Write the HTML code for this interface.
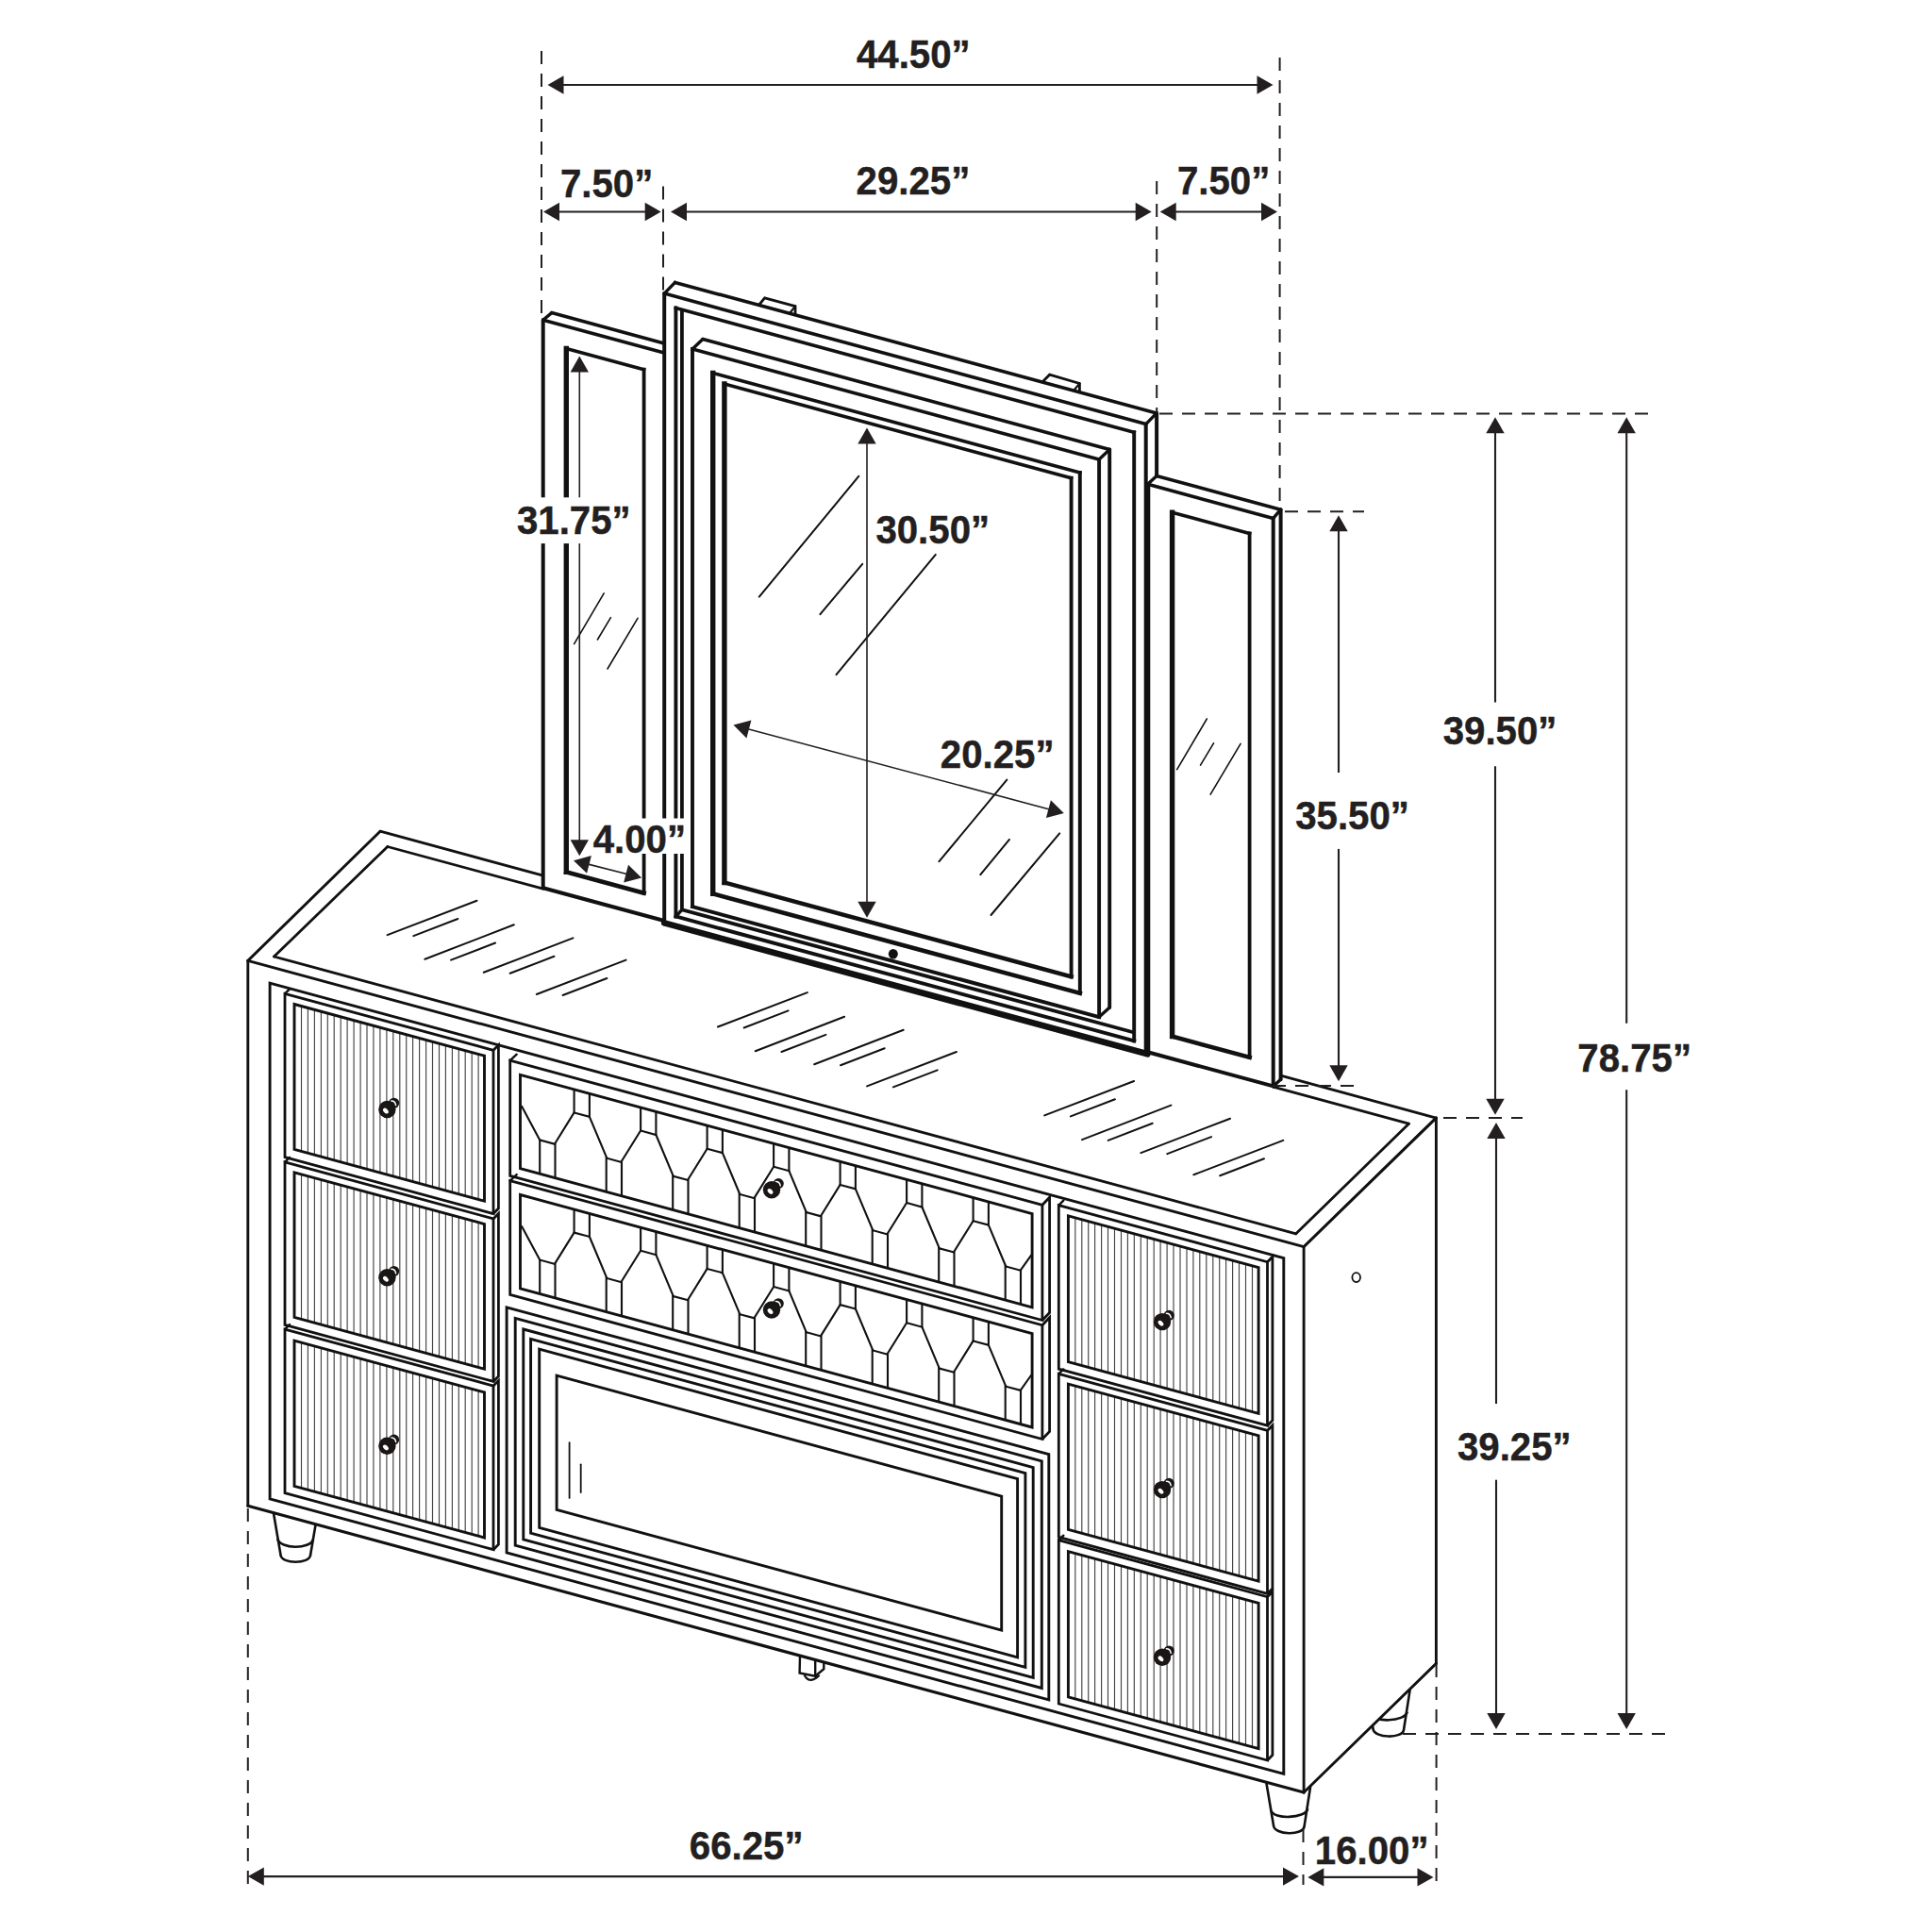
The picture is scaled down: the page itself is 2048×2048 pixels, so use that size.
<!DOCTYPE html>
<html><head><meta charset="utf-8"><style>
html,body{margin:0;padding:0;background:#fff;}
svg{display:block;}
</style></head><body>
<svg width="2048" height="2048" viewBox="0 0 2048 2048" stroke-linecap="butt">
<rect width="2048" height="2048" fill="#fff"/>
<line x1="262.8" y1="1018.4" x2="403.0" y2="881.2" stroke="#111" stroke-width="2.9" stroke-linecap="round" />
<line x1="403.0" y1="881.2" x2="575.7" y2="928.1" stroke="#111" stroke-width="2.9" stroke-linecap="round" />
<line x1="1357.6" y1="1140.2" x2="1522.4" y2="1185.1" stroke="#111" stroke-width="2.9" stroke-linecap="round" />
<line x1="1522.4" y1="1185.1" x2="1382.1" y2="1321.7" stroke="#111" stroke-width="2.9" stroke-linecap="round" />
<line x1="262.8" y1="1018.4" x2="1382.1" y2="1321.7" stroke="#111" stroke-width="2.9" stroke-linecap="round" />
<line x1="290.5" y1="1014.0" x2="410.8" y2="897.5" stroke="#111" stroke-width="2.8" stroke-linecap="round" />
<line x1="410.8" y1="897.5" x2="575.7" y2="942.2" stroke="#111" stroke-width="2.8" stroke-linecap="round" />
<line x1="1349.7" y1="1152.2" x2="1493.4" y2="1191.2" stroke="#111" stroke-width="2.8" stroke-linecap="round" />
<line x1="1493.4" y1="1191.2" x2="1373.8" y2="1307.8" stroke="#111" stroke-width="2.8" stroke-linecap="round" />
<line x1="1373.8" y1="1307.8" x2="290.5" y2="1014.0" stroke="#111" stroke-width="2.8" stroke-linecap="round" />
<line x1="410.6" y1="991.1" x2="505.5" y2="954.7" stroke="#111" stroke-width="2.0" stroke-linecap="round" />
<line x1="438.3" y1="992.1" x2="485.3" y2="974.0" stroke="#111" stroke-width="2.0" stroke-linecap="round" />
<line x1="450.4" y1="1016.8" x2="544.8" y2="980.3" stroke="#111" stroke-width="2.0" stroke-linecap="round" />
<line x1="478.1" y1="1017.6" x2="525.1" y2="999.5" stroke="#111" stroke-width="2.0" stroke-linecap="round" />
<line x1="512.8" y1="1030.8" x2="607.4" y2="994.4" stroke="#111" stroke-width="2.0" stroke-linecap="round" />
<line x1="540.7" y1="1031.8" x2="587.4" y2="1013.8" stroke="#111" stroke-width="2.0" stroke-linecap="round" />
<line x1="568.8" y1="1054.0" x2="663.6" y2="1017.6" stroke="#111" stroke-width="2.0" stroke-linecap="round" />
<line x1="596.6" y1="1055.0" x2="643.4" y2="1037.0" stroke="#111" stroke-width="2.0" stroke-linecap="round" />
<line x1="760.9" y1="1088.5" x2="855.8" y2="1052.1" stroke="#111" stroke-width="2.0" stroke-linecap="round" />
<line x1="788.6" y1="1089.5" x2="835.6" y2="1071.4" stroke="#111" stroke-width="2.0" stroke-linecap="round" />
<line x1="800.7" y1="1114.2" x2="895.1" y2="1077.7" stroke="#111" stroke-width="2.0" stroke-linecap="round" />
<line x1="828.4" y1="1115.0" x2="875.4" y2="1096.9" stroke="#111" stroke-width="2.0" stroke-linecap="round" />
<line x1="863.1" y1="1128.2" x2="957.7" y2="1091.8" stroke="#111" stroke-width="2.0" stroke-linecap="round" />
<line x1="891.0" y1="1129.2" x2="937.7" y2="1111.2" stroke="#111" stroke-width="2.0" stroke-linecap="round" />
<line x1="919.1" y1="1151.4" x2="1013.9" y2="1115.0" stroke="#111" stroke-width="2.0" stroke-linecap="round" />
<line x1="946.9" y1="1152.4" x2="993.7" y2="1134.4" stroke="#111" stroke-width="2.0" stroke-linecap="round" />
<line x1="1107.2" y1="1182.4" x2="1202.1" y2="1146.0" stroke="#111" stroke-width="2.0" stroke-linecap="round" />
<line x1="1134.9" y1="1183.4" x2="1181.9" y2="1165.3" stroke="#111" stroke-width="2.0" stroke-linecap="round" />
<line x1="1147.0" y1="1208.1" x2="1241.4" y2="1171.6" stroke="#111" stroke-width="2.0" stroke-linecap="round" />
<line x1="1174.7" y1="1208.9" x2="1221.7" y2="1190.8" stroke="#111" stroke-width="2.0" stroke-linecap="round" />
<line x1="1209.4" y1="1222.1" x2="1304.0" y2="1185.7" stroke="#111" stroke-width="2.0" stroke-linecap="round" />
<line x1="1237.3" y1="1223.1" x2="1284.0" y2="1205.1" stroke="#111" stroke-width="2.0" stroke-linecap="round" />
<line x1="1265.4" y1="1245.3" x2="1360.2" y2="1208.9" stroke="#111" stroke-width="2.0" stroke-linecap="round" />
<line x1="1293.2" y1="1246.3" x2="1340.0" y2="1228.3" stroke="#111" stroke-width="2.0" stroke-linecap="round" />
<line x1="1448.0" y1="1787.9" x2="1455.5" y2="1832.4" stroke="#111" stroke-width="2.6" stroke-linecap="round" />
<line x1="1494.6" y1="1791.4" x2="1488.1" y2="1833.3" stroke="#111" stroke-width="2.6" stroke-linecap="round" />
<path d="M1452.7,1816.4 C1455.5,1826.4 1489.0,1825.4 1491.8,1814.7" fill="none" stroke="#111" stroke-width="2.6"/>
<path d="M1455.5,1832.4 C1456.0,1842.9 1487.5,1843.4 1488.1,1833.3" fill="none" stroke="#111" stroke-width="2.6"/>
<polygon points="1382.1,1321.7 1522.4,1185.1 1522.4,1763.4 1382.1,1900.0" fill="#fff" stroke="none" stroke-width="0" stroke-linejoin="miter" />
<line x1="1522.4" y1="1185.1" x2="1382.1" y2="1321.7" stroke="#111" stroke-width="2.9" stroke-linecap="round" />
<line x1="1522.4" y1="1185.1" x2="1522.4" y2="1763.4" stroke="#111" stroke-width="2.9" stroke-linecap="round" />
<line x1="1382.1" y1="1900.0" x2="1522.4" y2="1763.4" stroke="#111" stroke-width="2.9" stroke-linecap="round" />
<ellipse cx="1437.7" cy="1354.1" rx="4.3" ry="5" fill="none" stroke="#111" stroke-width="1.8"/>
<line x1="1342.5" y1="1890.5" x2="1350.0" y2="1935.0" stroke="#111" stroke-width="2.6" stroke-linecap="round" />
<line x1="1389.1" y1="1894.0" x2="1382.6" y2="1935.9" stroke="#111" stroke-width="2.6" stroke-linecap="round" />
<path d="M1347.2,1919.0 C1350.0,1929.0 1383.5,1928.0 1386.3,1917.3" fill="none" stroke="#111" stroke-width="2.6"/>
<path d="M1350.0,1935.0 C1350.5,1945.5 1382.0,1946.0 1382.6,1935.9" fill="none" stroke="#111" stroke-width="2.6"/>
<line x1="290.0" y1="1604.0" x2="297.5" y2="1648.3" stroke="#111" stroke-width="2.6" stroke-linecap="round" />
<line x1="334.5" y1="1616.5" x2="329.1" y2="1648.3" stroke="#111" stroke-width="2.6" stroke-linecap="round" />
<path d="M294.2,1631.2 C297,1642.5 329,1642.5 331.9,1631.8" fill="none" stroke="#111" stroke-width="2.6"/>
<path d="M297.5,1648.3 C298,1658.3 328.6,1658.3 329.1,1648.3" fill="none" stroke="#111" stroke-width="2.6"/>
<polyline points="848.0,1755.5 847.6,1773.4 864.2,1776.7 864.2,1759.8" fill="none" stroke="#111" stroke-width="2.4" stroke-linejoin="miter" />
<polyline points="873.3,1762.3 873.3,1769.3 864.2,1776.7" fill="none" stroke="#111" stroke-width="2.4" stroke-linejoin="miter" />
<path d="M852.6,1775.6 Q858,1786 868.7,1775.8" fill="none" stroke="#111" stroke-width="2.2"/>
<line x1="262.8" y1="1018.4" x2="262.8" y2="1596.3" stroke="#111" stroke-width="2.9" stroke-linecap="round" />
<line x1="1382.1" y1="1321.7" x2="1382.1" y2="1900.0" stroke="#111" stroke-width="2.9" stroke-linecap="round" />
<line x1="262.8" y1="1596.3" x2="1382.1" y2="1900.0" stroke="#111" stroke-width="3.2" stroke-linecap="round" />
<polygon points="286.1,1042.1 1360.8,1333.7 1360.8,1880.4 286.1,1588.8" fill="none" stroke="#111" stroke-width="2.9" stroke-linejoin="miter" />
<polygon points="302.0,1053.3 523.0,1113.3 523.0,1286.6 302.0,1226.6" fill="none" stroke="#111" stroke-width="2.8" stroke-linejoin="miter" />
<polyline points="523.0,1113.3 528.4,1107.8 528.4,1281.1 523.0,1286.6" fill="none" stroke="#111" stroke-width="2.8" stroke-linejoin="miter" />
<line x1="302.0" y1="1053.3" x2="307.0" y2="1048.3" stroke="#111" stroke-width="2.4" stroke-linecap="round" />
<line x1="319.5" y1="1066.6" x2="319.5" y2="1220.6" stroke="#444" stroke-width="1.15" stroke-linecap="butt" />
<line x1="326.4" y1="1068.5" x2="326.4" y2="1222.5" stroke="#444" stroke-width="1.15" stroke-linecap="butt" />
<line x1="333.4" y1="1070.4" x2="333.4" y2="1224.4" stroke="#444" stroke-width="1.15" stroke-linecap="butt" />
<line x1="340.4" y1="1072.2" x2="340.4" y2="1226.2" stroke="#444" stroke-width="1.15" stroke-linecap="butt" />
<line x1="347.3" y1="1074.1" x2="347.3" y2="1228.1" stroke="#444" stroke-width="1.15" stroke-linecap="butt" />
<line x1="354.2" y1="1076.0" x2="354.2" y2="1230.0" stroke="#444" stroke-width="1.15" stroke-linecap="butt" />
<line x1="361.2" y1="1077.9" x2="361.2" y2="1231.9" stroke="#444" stroke-width="1.15" stroke-linecap="butt" />
<line x1="368.1" y1="1079.8" x2="368.1" y2="1233.8" stroke="#444" stroke-width="1.15" stroke-linecap="butt" />
<line x1="375.1" y1="1081.7" x2="375.1" y2="1235.7" stroke="#444" stroke-width="1.15" stroke-linecap="butt" />
<line x1="382.1" y1="1083.6" x2="382.1" y2="1237.6" stroke="#444" stroke-width="1.15" stroke-linecap="butt" />
<line x1="389.0" y1="1085.4" x2="389.0" y2="1239.4" stroke="#444" stroke-width="1.15" stroke-linecap="butt" />
<line x1="395.9" y1="1087.3" x2="395.9" y2="1241.3" stroke="#444" stroke-width="1.15" stroke-linecap="butt" />
<line x1="402.9" y1="1089.2" x2="402.9" y2="1243.2" stroke="#444" stroke-width="1.15" stroke-linecap="butt" />
<line x1="409.9" y1="1091.1" x2="409.9" y2="1245.1" stroke="#444" stroke-width="1.15" stroke-linecap="butt" />
<line x1="416.8" y1="1093.0" x2="416.8" y2="1247.0" stroke="#444" stroke-width="1.15" stroke-linecap="butt" />
<line x1="423.8" y1="1094.9" x2="423.8" y2="1248.9" stroke="#444" stroke-width="1.15" stroke-linecap="butt" />
<line x1="430.7" y1="1096.8" x2="430.7" y2="1250.8" stroke="#444" stroke-width="1.15" stroke-linecap="butt" />
<line x1="437.6" y1="1098.6" x2="437.6" y2="1252.6" stroke="#444" stroke-width="1.15" stroke-linecap="butt" />
<line x1="444.6" y1="1100.5" x2="444.6" y2="1254.5" stroke="#444" stroke-width="1.15" stroke-linecap="butt" />
<line x1="451.6" y1="1102.4" x2="451.6" y2="1256.4" stroke="#444" stroke-width="1.15" stroke-linecap="butt" />
<line x1="458.5" y1="1104.3" x2="458.5" y2="1258.3" stroke="#444" stroke-width="1.15" stroke-linecap="butt" />
<line x1="465.5" y1="1106.2" x2="465.5" y2="1260.2" stroke="#444" stroke-width="1.15" stroke-linecap="butt" />
<line x1="472.4" y1="1108.1" x2="472.4" y2="1262.1" stroke="#444" stroke-width="1.15" stroke-linecap="butt" />
<line x1="479.4" y1="1110.0" x2="479.4" y2="1264.0" stroke="#444" stroke-width="1.15" stroke-linecap="butt" />
<line x1="486.3" y1="1111.8" x2="486.3" y2="1265.8" stroke="#444" stroke-width="1.15" stroke-linecap="butt" />
<line x1="493.2" y1="1113.7" x2="493.2" y2="1267.7" stroke="#444" stroke-width="1.15" stroke-linecap="butt" />
<line x1="500.2" y1="1115.6" x2="500.2" y2="1269.6" stroke="#444" stroke-width="1.15" stroke-linecap="butt" />
<line x1="507.1" y1="1117.5" x2="507.1" y2="1271.5" stroke="#444" stroke-width="1.15" stroke-linecap="butt" />
<polygon points="312.0,1064.5 513.5,1119.2 513.5,1273.2 312.0,1218.5" fill="none" stroke="#111" stroke-width="2.9" stroke-linejoin="miter" />
<circle cx="417.6" cy="1169.3" r="5.6" fill="#1a1616"/>
<path d="M414.8,1167.1 Q419.0,1167.2 419.6,1171.6" fill="none" stroke="#fff" stroke-width="1.5" stroke-linecap="round"/>
<circle cx="410.4" cy="1176.0" r="9.2" fill="#1a1616"/>
<ellipse cx="408.9" cy="1177.6" rx="3.4" ry="2.2" transform="rotate(45 408.9 1177.6)" fill="#fff"/>
<polygon points="302.0,1231.9 523.0,1291.9 523.0,1464.4 302.0,1404.4" fill="none" stroke="#111" stroke-width="2.8" stroke-linejoin="miter" />
<polyline points="523.0,1291.9 528.4,1286.4 528.4,1458.9 523.0,1464.4" fill="none" stroke="#111" stroke-width="2.8" stroke-linejoin="miter" />
<line x1="302.0" y1="1231.9" x2="307.0" y2="1226.9" stroke="#111" stroke-width="2.4" stroke-linecap="round" />
<line x1="319.5" y1="1244.9" x2="319.5" y2="1398.6" stroke="#444" stroke-width="1.15" stroke-linecap="butt" />
<line x1="326.4" y1="1246.8" x2="326.4" y2="1400.5" stroke="#444" stroke-width="1.15" stroke-linecap="butt" />
<line x1="333.4" y1="1248.7" x2="333.4" y2="1402.4" stroke="#444" stroke-width="1.15" stroke-linecap="butt" />
<line x1="340.4" y1="1250.5" x2="340.4" y2="1404.2" stroke="#444" stroke-width="1.15" stroke-linecap="butt" />
<line x1="347.3" y1="1252.4" x2="347.3" y2="1406.1" stroke="#444" stroke-width="1.15" stroke-linecap="butt" />
<line x1="354.2" y1="1254.3" x2="354.2" y2="1408.0" stroke="#444" stroke-width="1.15" stroke-linecap="butt" />
<line x1="361.2" y1="1256.2" x2="361.2" y2="1409.9" stroke="#444" stroke-width="1.15" stroke-linecap="butt" />
<line x1="368.1" y1="1258.1" x2="368.1" y2="1411.8" stroke="#444" stroke-width="1.15" stroke-linecap="butt" />
<line x1="375.1" y1="1260.0" x2="375.1" y2="1413.7" stroke="#444" stroke-width="1.15" stroke-linecap="butt" />
<line x1="382.1" y1="1261.9" x2="382.1" y2="1415.6" stroke="#444" stroke-width="1.15" stroke-linecap="butt" />
<line x1="389.0" y1="1263.7" x2="389.0" y2="1417.4" stroke="#444" stroke-width="1.15" stroke-linecap="butt" />
<line x1="395.9" y1="1265.6" x2="395.9" y2="1419.3" stroke="#444" stroke-width="1.15" stroke-linecap="butt" />
<line x1="402.9" y1="1267.5" x2="402.9" y2="1421.2" stroke="#444" stroke-width="1.15" stroke-linecap="butt" />
<line x1="409.9" y1="1269.4" x2="409.9" y2="1423.1" stroke="#444" stroke-width="1.15" stroke-linecap="butt" />
<line x1="416.8" y1="1271.3" x2="416.8" y2="1425.0" stroke="#444" stroke-width="1.15" stroke-linecap="butt" />
<line x1="423.8" y1="1273.2" x2="423.8" y2="1426.9" stroke="#444" stroke-width="1.15" stroke-linecap="butt" />
<line x1="430.7" y1="1275.1" x2="430.7" y2="1428.8" stroke="#444" stroke-width="1.15" stroke-linecap="butt" />
<line x1="437.6" y1="1276.9" x2="437.6" y2="1430.6" stroke="#444" stroke-width="1.15" stroke-linecap="butt" />
<line x1="444.6" y1="1278.8" x2="444.6" y2="1432.5" stroke="#444" stroke-width="1.15" stroke-linecap="butt" />
<line x1="451.6" y1="1280.7" x2="451.6" y2="1434.4" stroke="#444" stroke-width="1.15" stroke-linecap="butt" />
<line x1="458.5" y1="1282.6" x2="458.5" y2="1436.3" stroke="#444" stroke-width="1.15" stroke-linecap="butt" />
<line x1="465.5" y1="1284.5" x2="465.5" y2="1438.2" stroke="#444" stroke-width="1.15" stroke-linecap="butt" />
<line x1="472.4" y1="1286.4" x2="472.4" y2="1440.1" stroke="#444" stroke-width="1.15" stroke-linecap="butt" />
<line x1="479.4" y1="1288.3" x2="479.4" y2="1442.0" stroke="#444" stroke-width="1.15" stroke-linecap="butt" />
<line x1="486.3" y1="1290.1" x2="486.3" y2="1443.8" stroke="#444" stroke-width="1.15" stroke-linecap="butt" />
<line x1="493.2" y1="1292.0" x2="493.2" y2="1445.7" stroke="#444" stroke-width="1.15" stroke-linecap="butt" />
<line x1="500.2" y1="1293.9" x2="500.2" y2="1447.6" stroke="#444" stroke-width="1.15" stroke-linecap="butt" />
<line x1="507.1" y1="1295.8" x2="507.1" y2="1449.5" stroke="#444" stroke-width="1.15" stroke-linecap="butt" />
<polygon points="312.0,1242.8 513.5,1297.5 513.5,1451.2 312.0,1396.5" fill="none" stroke="#111" stroke-width="2.9" stroke-linejoin="miter" />
<circle cx="417.6" cy="1347.5" r="5.6" fill="#1a1616"/>
<path d="M414.8,1345.3 Q419.0,1345.4 419.6,1349.8" fill="none" stroke="#fff" stroke-width="1.5" stroke-linecap="round"/>
<circle cx="410.4" cy="1354.2" r="9.2" fill="#1a1616"/>
<ellipse cx="408.9" cy="1355.8" rx="3.4" ry="2.2" transform="rotate(45 408.9 1355.8)" fill="#fff"/>
<polygon points="302.0,1409.1 523.0,1469.1 523.0,1642.7 302.0,1582.7" fill="none" stroke="#111" stroke-width="2.8" stroke-linejoin="miter" />
<polyline points="523.0,1469.1 528.4,1463.6 528.4,1637.2 523.0,1642.7" fill="none" stroke="#111" stroke-width="2.8" stroke-linejoin="miter" />
<line x1="302.0" y1="1409.1" x2="307.0" y2="1404.1" stroke="#111" stroke-width="2.4" stroke-linecap="round" />
<line x1="319.5" y1="1423.3" x2="319.5" y2="1577.4" stroke="#444" stroke-width="1.15" stroke-linecap="butt" />
<line x1="326.4" y1="1425.2" x2="326.4" y2="1579.3" stroke="#444" stroke-width="1.15" stroke-linecap="butt" />
<line x1="333.4" y1="1427.1" x2="333.4" y2="1581.2" stroke="#444" stroke-width="1.15" stroke-linecap="butt" />
<line x1="340.4" y1="1428.9" x2="340.4" y2="1583.0" stroke="#444" stroke-width="1.15" stroke-linecap="butt" />
<line x1="347.3" y1="1430.8" x2="347.3" y2="1584.9" stroke="#444" stroke-width="1.15" stroke-linecap="butt" />
<line x1="354.2" y1="1432.7" x2="354.2" y2="1586.8" stroke="#444" stroke-width="1.15" stroke-linecap="butt" />
<line x1="361.2" y1="1434.6" x2="361.2" y2="1588.7" stroke="#444" stroke-width="1.15" stroke-linecap="butt" />
<line x1="368.1" y1="1436.5" x2="368.1" y2="1590.6" stroke="#444" stroke-width="1.15" stroke-linecap="butt" />
<line x1="375.1" y1="1438.4" x2="375.1" y2="1592.5" stroke="#444" stroke-width="1.15" stroke-linecap="butt" />
<line x1="382.1" y1="1440.3" x2="382.1" y2="1594.4" stroke="#444" stroke-width="1.15" stroke-linecap="butt" />
<line x1="389.0" y1="1442.1" x2="389.0" y2="1596.2" stroke="#444" stroke-width="1.15" stroke-linecap="butt" />
<line x1="395.9" y1="1444.0" x2="395.9" y2="1598.1" stroke="#444" stroke-width="1.15" stroke-linecap="butt" />
<line x1="402.9" y1="1445.9" x2="402.9" y2="1600.0" stroke="#444" stroke-width="1.15" stroke-linecap="butt" />
<line x1="409.9" y1="1447.8" x2="409.9" y2="1601.9" stroke="#444" stroke-width="1.15" stroke-linecap="butt" />
<line x1="416.8" y1="1449.7" x2="416.8" y2="1603.8" stroke="#444" stroke-width="1.15" stroke-linecap="butt" />
<line x1="423.8" y1="1451.6" x2="423.8" y2="1605.7" stroke="#444" stroke-width="1.15" stroke-linecap="butt" />
<line x1="430.7" y1="1453.5" x2="430.7" y2="1607.6" stroke="#444" stroke-width="1.15" stroke-linecap="butt" />
<line x1="437.6" y1="1455.3" x2="437.6" y2="1609.4" stroke="#444" stroke-width="1.15" stroke-linecap="butt" />
<line x1="444.6" y1="1457.2" x2="444.6" y2="1611.3" stroke="#444" stroke-width="1.15" stroke-linecap="butt" />
<line x1="451.6" y1="1459.1" x2="451.6" y2="1613.2" stroke="#444" stroke-width="1.15" stroke-linecap="butt" />
<line x1="458.5" y1="1461.0" x2="458.5" y2="1615.1" stroke="#444" stroke-width="1.15" stroke-linecap="butt" />
<line x1="465.5" y1="1462.9" x2="465.5" y2="1617.0" stroke="#444" stroke-width="1.15" stroke-linecap="butt" />
<line x1="472.4" y1="1464.8" x2="472.4" y2="1618.9" stroke="#444" stroke-width="1.15" stroke-linecap="butt" />
<line x1="479.4" y1="1466.7" x2="479.4" y2="1620.8" stroke="#444" stroke-width="1.15" stroke-linecap="butt" />
<line x1="486.3" y1="1468.5" x2="486.3" y2="1622.6" stroke="#444" stroke-width="1.15" stroke-linecap="butt" />
<line x1="493.2" y1="1470.4" x2="493.2" y2="1624.5" stroke="#444" stroke-width="1.15" stroke-linecap="butt" />
<line x1="500.2" y1="1472.3" x2="500.2" y2="1626.4" stroke="#444" stroke-width="1.15" stroke-linecap="butt" />
<line x1="507.1" y1="1474.2" x2="507.1" y2="1628.3" stroke="#444" stroke-width="1.15" stroke-linecap="butt" />
<polygon points="312.0,1421.2 513.5,1475.9 513.5,1630.0 312.0,1575.3" fill="none" stroke="#111" stroke-width="2.9" stroke-linejoin="miter" />
<circle cx="417.6" cy="1526.1" r="5.6" fill="#1a1616"/>
<path d="M414.8,1523.9 Q419.0,1524.0 419.6,1528.4" fill="none" stroke="#fff" stroke-width="1.5" stroke-linecap="round"/>
<circle cx="410.4" cy="1532.8" r="9.2" fill="#1a1616"/>
<ellipse cx="408.9" cy="1534.4" rx="3.4" ry="2.2" transform="rotate(45 408.9 1534.4)" fill="#fff"/>
<polygon points="1122.3,1277.7 1343.5,1337.7 1343.5,1511.2 1122.3,1451.2" fill="none" stroke="#111" stroke-width="2.8" stroke-linejoin="miter" />
<polyline points="1343.5,1337.7 1348.9,1332.2 1348.9,1505.7 1343.5,1511.2" fill="none" stroke="#111" stroke-width="2.8" stroke-linejoin="miter" />
<line x1="1122.3" y1="1277.7" x2="1127.3" y2="1272.7" stroke="#111" stroke-width="2.4" stroke-linecap="round" />
<line x1="1139.8" y1="1290.9" x2="1139.8" y2="1445.6" stroke="#444" stroke-width="1.15" stroke-linecap="butt" />
<line x1="1146.8" y1="1292.8" x2="1146.8" y2="1447.5" stroke="#444" stroke-width="1.15" stroke-linecap="butt" />
<line x1="1153.7" y1="1294.7" x2="1153.7" y2="1449.4" stroke="#444" stroke-width="1.15" stroke-linecap="butt" />
<line x1="1160.6" y1="1296.6" x2="1160.6" y2="1451.3" stroke="#444" stroke-width="1.15" stroke-linecap="butt" />
<line x1="1167.6" y1="1298.5" x2="1167.6" y2="1453.2" stroke="#444" stroke-width="1.15" stroke-linecap="butt" />
<line x1="1174.5" y1="1300.4" x2="1174.5" y2="1455.1" stroke="#444" stroke-width="1.15" stroke-linecap="butt" />
<line x1="1181.5" y1="1302.2" x2="1181.5" y2="1456.9" stroke="#444" stroke-width="1.15" stroke-linecap="butt" />
<line x1="1188.5" y1="1304.1" x2="1188.5" y2="1458.8" stroke="#444" stroke-width="1.15" stroke-linecap="butt" />
<line x1="1195.4" y1="1306.0" x2="1195.4" y2="1460.7" stroke="#444" stroke-width="1.15" stroke-linecap="butt" />
<line x1="1202.3" y1="1307.9" x2="1202.3" y2="1462.6" stroke="#444" stroke-width="1.15" stroke-linecap="butt" />
<line x1="1209.3" y1="1309.8" x2="1209.3" y2="1464.5" stroke="#444" stroke-width="1.15" stroke-linecap="butt" />
<line x1="1216.2" y1="1311.7" x2="1216.2" y2="1466.4" stroke="#444" stroke-width="1.15" stroke-linecap="butt" />
<line x1="1223.2" y1="1313.6" x2="1223.2" y2="1468.3" stroke="#444" stroke-width="1.15" stroke-linecap="butt" />
<line x1="1230.1" y1="1315.4" x2="1230.1" y2="1470.1" stroke="#444" stroke-width="1.15" stroke-linecap="butt" />
<line x1="1237.1" y1="1317.3" x2="1237.1" y2="1472.0" stroke="#444" stroke-width="1.15" stroke-linecap="butt" />
<line x1="1244.0" y1="1319.2" x2="1244.0" y2="1473.9" stroke="#444" stroke-width="1.15" stroke-linecap="butt" />
<line x1="1251.0" y1="1321.1" x2="1251.0" y2="1475.8" stroke="#444" stroke-width="1.15" stroke-linecap="butt" />
<line x1="1258.0" y1="1323.0" x2="1258.0" y2="1477.7" stroke="#444" stroke-width="1.15" stroke-linecap="butt" />
<line x1="1264.9" y1="1324.9" x2="1264.9" y2="1479.6" stroke="#444" stroke-width="1.15" stroke-linecap="butt" />
<line x1="1271.8" y1="1326.8" x2="1271.8" y2="1481.5" stroke="#444" stroke-width="1.15" stroke-linecap="butt" />
<line x1="1278.8" y1="1328.6" x2="1278.8" y2="1483.3" stroke="#444" stroke-width="1.15" stroke-linecap="butt" />
<line x1="1285.8" y1="1330.5" x2="1285.8" y2="1485.2" stroke="#444" stroke-width="1.15" stroke-linecap="butt" />
<line x1="1292.7" y1="1332.4" x2="1292.7" y2="1487.1" stroke="#444" stroke-width="1.15" stroke-linecap="butt" />
<line x1="1299.6" y1="1334.3" x2="1299.6" y2="1489.0" stroke="#444" stroke-width="1.15" stroke-linecap="butt" />
<line x1="1306.6" y1="1336.2" x2="1306.6" y2="1490.9" stroke="#444" stroke-width="1.15" stroke-linecap="butt" />
<line x1="1313.5" y1="1338.1" x2="1313.5" y2="1492.8" stroke="#444" stroke-width="1.15" stroke-linecap="butt" />
<line x1="1320.5" y1="1340.0" x2="1320.5" y2="1494.7" stroke="#444" stroke-width="1.15" stroke-linecap="butt" />
<line x1="1327.5" y1="1341.8" x2="1327.5" y2="1496.5" stroke="#444" stroke-width="1.15" stroke-linecap="butt" />
<polygon points="1132.4,1288.9 1334.1,1343.6 1334.1,1498.3 1132.4,1443.6" fill="none" stroke="#111" stroke-width="2.9" stroke-linejoin="miter" />
<circle cx="1239.2" cy="1394.4" r="5.6" fill="#1a1616"/>
<path d="M1236.4,1392.2 Q1240.6,1392.3 1241.2,1396.7" fill="none" stroke="#fff" stroke-width="1.5" stroke-linecap="round"/>
<circle cx="1232.0" cy="1401.1" r="9.2" fill="#1a1616"/>
<ellipse cx="1230.5" cy="1402.7" rx="3.4" ry="2.2" transform="rotate(45 1230.5 1402.7)" fill="#fff"/>
<polygon points="1122.3,1456.4 1343.5,1516.4 1343.5,1689.4 1122.3,1629.4" fill="none" stroke="#111" stroke-width="2.8" stroke-linejoin="miter" />
<polyline points="1343.5,1516.4 1348.9,1510.9 1348.9,1683.9 1343.5,1689.4" fill="none" stroke="#111" stroke-width="2.8" stroke-linejoin="miter" />
<line x1="1122.3" y1="1456.4" x2="1127.3" y2="1451.4" stroke="#111" stroke-width="2.4" stroke-linecap="round" />
<line x1="1139.8" y1="1469.1" x2="1139.8" y2="1623.4" stroke="#444" stroke-width="1.15" stroke-linecap="butt" />
<line x1="1146.8" y1="1471.0" x2="1146.8" y2="1625.3" stroke="#444" stroke-width="1.15" stroke-linecap="butt" />
<line x1="1153.7" y1="1472.9" x2="1153.7" y2="1627.2" stroke="#444" stroke-width="1.15" stroke-linecap="butt" />
<line x1="1160.6" y1="1474.8" x2="1160.6" y2="1629.1" stroke="#444" stroke-width="1.15" stroke-linecap="butt" />
<line x1="1167.6" y1="1476.7" x2="1167.6" y2="1631.0" stroke="#444" stroke-width="1.15" stroke-linecap="butt" />
<line x1="1174.5" y1="1478.6" x2="1174.5" y2="1632.9" stroke="#444" stroke-width="1.15" stroke-linecap="butt" />
<line x1="1181.5" y1="1480.4" x2="1181.5" y2="1634.7" stroke="#444" stroke-width="1.15" stroke-linecap="butt" />
<line x1="1188.5" y1="1482.3" x2="1188.5" y2="1636.6" stroke="#444" stroke-width="1.15" stroke-linecap="butt" />
<line x1="1195.4" y1="1484.2" x2="1195.4" y2="1638.5" stroke="#444" stroke-width="1.15" stroke-linecap="butt" />
<line x1="1202.3" y1="1486.1" x2="1202.3" y2="1640.4" stroke="#444" stroke-width="1.15" stroke-linecap="butt" />
<line x1="1209.3" y1="1488.0" x2="1209.3" y2="1642.3" stroke="#444" stroke-width="1.15" stroke-linecap="butt" />
<line x1="1216.2" y1="1489.9" x2="1216.2" y2="1644.2" stroke="#444" stroke-width="1.15" stroke-linecap="butt" />
<line x1="1223.2" y1="1491.8" x2="1223.2" y2="1646.1" stroke="#444" stroke-width="1.15" stroke-linecap="butt" />
<line x1="1230.1" y1="1493.6" x2="1230.1" y2="1647.9" stroke="#444" stroke-width="1.15" stroke-linecap="butt" />
<line x1="1237.1" y1="1495.5" x2="1237.1" y2="1649.8" stroke="#444" stroke-width="1.15" stroke-linecap="butt" />
<line x1="1244.0" y1="1497.4" x2="1244.0" y2="1651.7" stroke="#444" stroke-width="1.15" stroke-linecap="butt" />
<line x1="1251.0" y1="1499.3" x2="1251.0" y2="1653.6" stroke="#444" stroke-width="1.15" stroke-linecap="butt" />
<line x1="1258.0" y1="1501.2" x2="1258.0" y2="1655.5" stroke="#444" stroke-width="1.15" stroke-linecap="butt" />
<line x1="1264.9" y1="1503.1" x2="1264.9" y2="1657.4" stroke="#444" stroke-width="1.15" stroke-linecap="butt" />
<line x1="1271.8" y1="1505.0" x2="1271.8" y2="1659.3" stroke="#444" stroke-width="1.15" stroke-linecap="butt" />
<line x1="1278.8" y1="1506.8" x2="1278.8" y2="1661.1" stroke="#444" stroke-width="1.15" stroke-linecap="butt" />
<line x1="1285.8" y1="1508.7" x2="1285.8" y2="1663.0" stroke="#444" stroke-width="1.15" stroke-linecap="butt" />
<line x1="1292.7" y1="1510.6" x2="1292.7" y2="1664.9" stroke="#444" stroke-width="1.15" stroke-linecap="butt" />
<line x1="1299.6" y1="1512.5" x2="1299.6" y2="1666.8" stroke="#444" stroke-width="1.15" stroke-linecap="butt" />
<line x1="1306.6" y1="1514.4" x2="1306.6" y2="1668.7" stroke="#444" stroke-width="1.15" stroke-linecap="butt" />
<line x1="1313.5" y1="1516.3" x2="1313.5" y2="1670.6" stroke="#444" stroke-width="1.15" stroke-linecap="butt" />
<line x1="1320.5" y1="1518.2" x2="1320.5" y2="1672.5" stroke="#444" stroke-width="1.15" stroke-linecap="butt" />
<line x1="1327.5" y1="1520.0" x2="1327.5" y2="1674.3" stroke="#444" stroke-width="1.15" stroke-linecap="butt" />
<polygon points="1132.4,1467.1 1334.1,1521.8 1334.1,1676.1 1132.4,1621.4" fill="none" stroke="#111" stroke-width="2.9" stroke-linejoin="miter" />
<circle cx="1239.2" cy="1572.4" r="5.6" fill="#1a1616"/>
<path d="M1236.4,1570.2 Q1240.6,1570.3 1241.2,1574.7" fill="none" stroke="#fff" stroke-width="1.5" stroke-linecap="round"/>
<circle cx="1232.0" cy="1579.1" r="9.2" fill="#1a1616"/>
<ellipse cx="1230.5" cy="1580.7" rx="3.4" ry="2.2" transform="rotate(45 1230.5 1580.7)" fill="#fff"/>
<polygon points="1122.3,1632.7 1343.5,1692.7 1343.5,1866.0 1122.3,1806.0" fill="none" stroke="#111" stroke-width="2.8" stroke-linejoin="miter" />
<polyline points="1343.5,1692.7 1348.9,1687.2 1348.9,1860.5 1343.5,1866.0" fill="none" stroke="#111" stroke-width="2.8" stroke-linejoin="miter" />
<line x1="1122.3" y1="1632.7" x2="1127.3" y2="1627.7" stroke="#111" stroke-width="2.4" stroke-linecap="round" />
<line x1="1139.8" y1="1646.7" x2="1139.8" y2="1801.0" stroke="#444" stroke-width="1.15" stroke-linecap="butt" />
<line x1="1146.8" y1="1648.6" x2="1146.8" y2="1802.9" stroke="#444" stroke-width="1.15" stroke-linecap="butt" />
<line x1="1153.7" y1="1650.5" x2="1153.7" y2="1804.8" stroke="#444" stroke-width="1.15" stroke-linecap="butt" />
<line x1="1160.6" y1="1652.4" x2="1160.6" y2="1806.7" stroke="#444" stroke-width="1.15" stroke-linecap="butt" />
<line x1="1167.6" y1="1654.3" x2="1167.6" y2="1808.6" stroke="#444" stroke-width="1.15" stroke-linecap="butt" />
<line x1="1174.5" y1="1656.2" x2="1174.5" y2="1810.5" stroke="#444" stroke-width="1.15" stroke-linecap="butt" />
<line x1="1181.5" y1="1658.0" x2="1181.5" y2="1812.3" stroke="#444" stroke-width="1.15" stroke-linecap="butt" />
<line x1="1188.5" y1="1659.9" x2="1188.5" y2="1814.2" stroke="#444" stroke-width="1.15" stroke-linecap="butt" />
<line x1="1195.4" y1="1661.8" x2="1195.4" y2="1816.1" stroke="#444" stroke-width="1.15" stroke-linecap="butt" />
<line x1="1202.3" y1="1663.7" x2="1202.3" y2="1818.0" stroke="#444" stroke-width="1.15" stroke-linecap="butt" />
<line x1="1209.3" y1="1665.6" x2="1209.3" y2="1819.9" stroke="#444" stroke-width="1.15" stroke-linecap="butt" />
<line x1="1216.2" y1="1667.5" x2="1216.2" y2="1821.8" stroke="#444" stroke-width="1.15" stroke-linecap="butt" />
<line x1="1223.2" y1="1669.4" x2="1223.2" y2="1823.7" stroke="#444" stroke-width="1.15" stroke-linecap="butt" />
<line x1="1230.1" y1="1671.2" x2="1230.1" y2="1825.5" stroke="#444" stroke-width="1.15" stroke-linecap="butt" />
<line x1="1237.1" y1="1673.1" x2="1237.1" y2="1827.4" stroke="#444" stroke-width="1.15" stroke-linecap="butt" />
<line x1="1244.0" y1="1675.0" x2="1244.0" y2="1829.3" stroke="#444" stroke-width="1.15" stroke-linecap="butt" />
<line x1="1251.0" y1="1676.9" x2="1251.0" y2="1831.2" stroke="#444" stroke-width="1.15" stroke-linecap="butt" />
<line x1="1258.0" y1="1678.8" x2="1258.0" y2="1833.1" stroke="#444" stroke-width="1.15" stroke-linecap="butt" />
<line x1="1264.9" y1="1680.7" x2="1264.9" y2="1835.0" stroke="#444" stroke-width="1.15" stroke-linecap="butt" />
<line x1="1271.8" y1="1682.6" x2="1271.8" y2="1836.9" stroke="#444" stroke-width="1.15" stroke-linecap="butt" />
<line x1="1278.8" y1="1684.4" x2="1278.8" y2="1838.7" stroke="#444" stroke-width="1.15" stroke-linecap="butt" />
<line x1="1285.8" y1="1686.3" x2="1285.8" y2="1840.6" stroke="#444" stroke-width="1.15" stroke-linecap="butt" />
<line x1="1292.7" y1="1688.2" x2="1292.7" y2="1842.5" stroke="#444" stroke-width="1.15" stroke-linecap="butt" />
<line x1="1299.6" y1="1690.1" x2="1299.6" y2="1844.4" stroke="#444" stroke-width="1.15" stroke-linecap="butt" />
<line x1="1306.6" y1="1692.0" x2="1306.6" y2="1846.3" stroke="#444" stroke-width="1.15" stroke-linecap="butt" />
<line x1="1313.5" y1="1693.9" x2="1313.5" y2="1848.2" stroke="#444" stroke-width="1.15" stroke-linecap="butt" />
<line x1="1320.5" y1="1695.8" x2="1320.5" y2="1850.1" stroke="#444" stroke-width="1.15" stroke-linecap="butt" />
<line x1="1327.5" y1="1697.6" x2="1327.5" y2="1851.9" stroke="#444" stroke-width="1.15" stroke-linecap="butt" />
<polygon points="1132.4,1644.7 1334.1,1699.4 1334.1,1853.7 1132.4,1799.0" fill="none" stroke="#111" stroke-width="2.9" stroke-linejoin="miter" />
<circle cx="1239.2" cy="1750.0" r="5.6" fill="#1a1616"/>
<path d="M1236.4,1747.8 Q1240.6,1747.9 1241.2,1752.3" fill="none" stroke="#fff" stroke-width="1.5" stroke-linecap="round"/>
<circle cx="1232.0" cy="1756.7" r="9.2" fill="#1a1616"/>
<ellipse cx="1230.5" cy="1758.3" rx="3.4" ry="2.2" transform="rotate(45 1230.5 1758.3)" fill="#fff"/>
<polygon points="540.7,1124.2 1104.9,1277.3 1104.9,1399.5 540.7,1246.4" fill="none" stroke="#111" stroke-width="2.8" stroke-linejoin="miter" />
<polyline points="1104.9,1277.3 1112.6,1269.2 1112.6,1391.4 1104.9,1399.5" fill="none" stroke="#111" stroke-width="2.8" stroke-linejoin="miter" />
<line x1="540.7" y1="1124.2" x2="547.7" y2="1117.7" stroke="#111" stroke-width="2.4" stroke-linecap="round" />
<polyline points="608.6,1154.8 608.6,1179.4 624.9,1183.8 624.9,1159.2" fill="none" stroke="#111" stroke-width="2.1" stroke-linejoin="miter" />
<line x1="608.6" y1="1179.4" x2="587.9" y2="1212.7" stroke="#111" stroke-width="2.1" stroke-linecap="round" />
<line x1="624.9" y1="1183.8" x2="643.3" y2="1227.7" stroke="#111" stroke-width="2.1" stroke-linecap="round" />
<polyline points="679.1,1173.9 679.1,1198.5 695.4,1203.0 695.4,1178.4" fill="none" stroke="#111" stroke-width="2.1" stroke-linejoin="miter" />
<line x1="679.1" y1="1198.5" x2="658.4" y2="1231.8" stroke="#111" stroke-width="2.1" stroke-linecap="round" />
<line x1="695.4" y1="1203.0" x2="713.8" y2="1246.9" stroke="#111" stroke-width="2.1" stroke-linecap="round" />
<polyline points="749.6,1193.1 749.6,1217.7 765.9,1222.1 765.9,1197.5" fill="none" stroke="#111" stroke-width="2.1" stroke-linejoin="miter" />
<line x1="749.6" y1="1217.7" x2="728.9" y2="1251.0" stroke="#111" stroke-width="2.1" stroke-linecap="round" />
<line x1="765.9" y1="1222.1" x2="784.3" y2="1266.0" stroke="#111" stroke-width="2.1" stroke-linecap="round" />
<polyline points="820.1,1212.2 820.1,1236.8 836.4,1241.2 836.4,1216.6" fill="none" stroke="#111" stroke-width="2.1" stroke-linejoin="miter" />
<line x1="820.1" y1="1236.8" x2="799.4" y2="1270.1" stroke="#111" stroke-width="2.1" stroke-linecap="round" />
<line x1="836.4" y1="1241.2" x2="854.8" y2="1285.1" stroke="#111" stroke-width="2.1" stroke-linecap="round" />
<polyline points="890.6,1231.3 890.6,1255.9 906.9,1260.3 906.9,1235.7" fill="none" stroke="#111" stroke-width="2.1" stroke-linejoin="miter" />
<line x1="890.6" y1="1255.9" x2="869.9" y2="1289.2" stroke="#111" stroke-width="2.1" stroke-linecap="round" />
<line x1="906.9" y1="1260.3" x2="925.3" y2="1304.2" stroke="#111" stroke-width="2.1" stroke-linecap="round" />
<polyline points="961.1,1250.4 961.1,1275.0 977.4,1279.5 977.4,1254.9" fill="none" stroke="#111" stroke-width="2.1" stroke-linejoin="miter" />
<line x1="961.1" y1="1275.0" x2="940.4" y2="1308.3" stroke="#111" stroke-width="2.1" stroke-linecap="round" />
<line x1="977.4" y1="1279.5" x2="995.8" y2="1323.4" stroke="#111" stroke-width="2.1" stroke-linecap="round" />
<polyline points="1031.6,1269.6 1031.6,1294.2 1047.9,1298.6 1047.9,1274.0" fill="none" stroke="#111" stroke-width="2.1" stroke-linejoin="miter" />
<line x1="1031.6" y1="1294.2" x2="1010.9" y2="1327.5" stroke="#111" stroke-width="2.1" stroke-linecap="round" />
<line x1="1047.9" y1="1298.6" x2="1066.3" y2="1342.5" stroke="#111" stroke-width="2.1" stroke-linecap="round" />
<polyline points="572.2,1244.2 572.2,1208.4 588.5,1212.9 588.5,1248.7" fill="none" stroke="#111" stroke-width="2.1" stroke-linejoin="miter" />
<polyline points="642.7,1263.4 642.7,1227.6 659.0,1232.0 659.0,1267.8" fill="none" stroke="#111" stroke-width="2.1" stroke-linejoin="miter" />
<polyline points="713.2,1282.5 713.2,1246.7 729.5,1251.1 729.5,1286.9" fill="none" stroke="#111" stroke-width="2.1" stroke-linejoin="miter" />
<polyline points="783.7,1301.6 783.7,1265.8 800.0,1270.2 800.0,1306.0" fill="none" stroke="#111" stroke-width="2.1" stroke-linejoin="miter" />
<polyline points="854.2,1320.7 854.2,1284.9 870.5,1289.4 870.5,1325.2" fill="none" stroke="#111" stroke-width="2.1" stroke-linejoin="miter" />
<polyline points="924.7,1339.9 924.7,1304.1 941.0,1308.5 941.0,1344.3" fill="none" stroke="#111" stroke-width="2.1" stroke-linejoin="miter" />
<polyline points="995.2,1359.0 995.2,1323.2 1011.5,1327.6 1011.5,1363.4" fill="none" stroke="#111" stroke-width="2.1" stroke-linejoin="miter" />
<polyline points="1065.7,1378.1 1065.7,1342.3 1082.0,1346.7 1082.0,1382.5" fill="none" stroke="#111" stroke-width="2.1" stroke-linejoin="miter" />
<line x1="553.1" y1="1172.8" x2="572.2" y2="1208.4" stroke="#111" stroke-width="2.1" stroke-linecap="round" />
<line x1="1081.7" y1="1346.7" x2="1093.3" y2="1330.3" stroke="#111" stroke-width="2.1" stroke-linecap="round" />
<polygon points="551.5,1139.3 1094.1,1286.5 1094.1,1385.8 551.5,1238.6" fill="none" stroke="#111" stroke-width="2.9" stroke-linejoin="miter" />
<circle cx="825.2" cy="1254.6" r="5.6" fill="#1a1616"/>
<path d="M822.4,1252.4 Q826.6,1252.5 827.2,1256.9" fill="none" stroke="#fff" stroke-width="1.5" stroke-linecap="round"/>
<circle cx="818.0" cy="1261.3" r="9.2" fill="#1a1616"/>
<ellipse cx="816.5" cy="1262.9" rx="3.4" ry="2.2" transform="rotate(45 816.5 1262.9)" fill="#fff"/>
<polygon points="540.7,1251.6 1104.9,1404.7 1104.9,1525.5 540.7,1372.4" fill="none" stroke="#111" stroke-width="2.8" stroke-linejoin="miter" />
<polyline points="1104.9,1404.7 1112.6,1396.6 1112.6,1517.4 1104.9,1525.5" fill="none" stroke="#111" stroke-width="2.8" stroke-linejoin="miter" />
<line x1="540.7" y1="1251.6" x2="547.7" y2="1245.1" stroke="#111" stroke-width="2.4" stroke-linecap="round" />
<polyline points="608.6,1282.0 608.6,1306.6 624.9,1311.0 624.9,1286.4" fill="none" stroke="#111" stroke-width="2.1" stroke-linejoin="miter" />
<line x1="608.6" y1="1306.6" x2="587.9" y2="1339.9" stroke="#111" stroke-width="2.1" stroke-linecap="round" />
<line x1="624.9" y1="1311.0" x2="643.3" y2="1354.9" stroke="#111" stroke-width="2.1" stroke-linecap="round" />
<polyline points="679.1,1301.1 679.1,1325.7 695.4,1330.2 695.4,1305.6" fill="none" stroke="#111" stroke-width="2.1" stroke-linejoin="miter" />
<line x1="679.1" y1="1325.7" x2="658.4" y2="1359.0" stroke="#111" stroke-width="2.1" stroke-linecap="round" />
<line x1="695.4" y1="1330.2" x2="713.8" y2="1374.1" stroke="#111" stroke-width="2.1" stroke-linecap="round" />
<polyline points="749.6,1320.3 749.6,1344.9 765.9,1349.3 765.9,1324.7" fill="none" stroke="#111" stroke-width="2.1" stroke-linejoin="miter" />
<line x1="749.6" y1="1344.9" x2="728.9" y2="1378.2" stroke="#111" stroke-width="2.1" stroke-linecap="round" />
<line x1="765.9" y1="1349.3" x2="784.3" y2="1393.2" stroke="#111" stroke-width="2.1" stroke-linecap="round" />
<polyline points="820.1,1339.4 820.1,1364.0 836.4,1368.4 836.4,1343.8" fill="none" stroke="#111" stroke-width="2.1" stroke-linejoin="miter" />
<line x1="820.1" y1="1364.0" x2="799.4" y2="1397.3" stroke="#111" stroke-width="2.1" stroke-linecap="round" />
<line x1="836.4" y1="1368.4" x2="854.8" y2="1412.3" stroke="#111" stroke-width="2.1" stroke-linecap="round" />
<polyline points="890.6,1358.5 890.6,1383.1 906.9,1387.5 906.9,1362.9" fill="none" stroke="#111" stroke-width="2.1" stroke-linejoin="miter" />
<line x1="890.6" y1="1383.1" x2="869.9" y2="1416.4" stroke="#111" stroke-width="2.1" stroke-linecap="round" />
<line x1="906.9" y1="1387.5" x2="925.3" y2="1431.4" stroke="#111" stroke-width="2.1" stroke-linecap="round" />
<polyline points="961.1,1377.6 961.1,1402.2 977.4,1406.7 977.4,1382.1" fill="none" stroke="#111" stroke-width="2.1" stroke-linejoin="miter" />
<line x1="961.1" y1="1402.2" x2="940.4" y2="1435.5" stroke="#111" stroke-width="2.1" stroke-linecap="round" />
<line x1="977.4" y1="1406.7" x2="995.8" y2="1450.6" stroke="#111" stroke-width="2.1" stroke-linecap="round" />
<polyline points="1031.6,1396.8 1031.6,1421.4 1047.9,1425.8 1047.9,1401.2" fill="none" stroke="#111" stroke-width="2.1" stroke-linejoin="miter" />
<line x1="1031.6" y1="1421.4" x2="1010.9" y2="1454.7" stroke="#111" stroke-width="2.1" stroke-linecap="round" />
<line x1="1047.9" y1="1425.8" x2="1066.3" y2="1469.7" stroke="#111" stroke-width="2.1" stroke-linecap="round" />
<polyline points="572.2,1371.4 572.2,1335.6 588.5,1340.1 588.5,1375.9" fill="none" stroke="#111" stroke-width="2.1" stroke-linejoin="miter" />
<polyline points="642.7,1390.6 642.7,1354.8 659.0,1359.2 659.0,1395.0" fill="none" stroke="#111" stroke-width="2.1" stroke-linejoin="miter" />
<polyline points="713.2,1409.7 713.2,1373.9 729.5,1378.3 729.5,1414.1" fill="none" stroke="#111" stroke-width="2.1" stroke-linejoin="miter" />
<polyline points="783.7,1428.8 783.7,1393.0 800.0,1397.4 800.0,1433.2" fill="none" stroke="#111" stroke-width="2.1" stroke-linejoin="miter" />
<polyline points="854.2,1447.9 854.2,1412.1 870.5,1416.6 870.5,1452.4" fill="none" stroke="#111" stroke-width="2.1" stroke-linejoin="miter" />
<polyline points="924.7,1467.1 924.7,1431.3 941.0,1435.7 941.0,1471.5" fill="none" stroke="#111" stroke-width="2.1" stroke-linejoin="miter" />
<polyline points="995.2,1486.2 995.2,1450.4 1011.5,1454.8 1011.5,1490.6" fill="none" stroke="#111" stroke-width="2.1" stroke-linejoin="miter" />
<polyline points="1065.7,1505.3 1065.7,1469.5 1082.0,1473.9 1082.0,1509.7" fill="none" stroke="#111" stroke-width="2.1" stroke-linejoin="miter" />
<line x1="553.1" y1="1300.0" x2="572.2" y2="1335.6" stroke="#111" stroke-width="2.1" stroke-linecap="round" />
<line x1="1081.7" y1="1473.9" x2="1093.3" y2="1457.5" stroke="#111" stroke-width="2.1" stroke-linecap="round" />
<polygon points="551.5,1266.5 1094.1,1413.7 1094.1,1513.0 551.5,1365.8" fill="none" stroke="#111" stroke-width="2.9" stroke-linejoin="miter" />
<circle cx="825.2" cy="1381.8" r="5.6" fill="#1a1616"/>
<path d="M822.4,1379.6 Q826.6,1379.7 827.2,1384.1" fill="none" stroke="#fff" stroke-width="1.5" stroke-linecap="round"/>
<circle cx="818.0" cy="1388.5" r="9.2" fill="#1a1616"/>
<ellipse cx="816.5" cy="1390.1" rx="3.4" ry="2.2" transform="rotate(45 816.5 1390.1)" fill="#fff"/>
<polygon points="537.1,1385.8 1111.8,1541.7 1111.8,1801.9 537.1,1646.0" fill="none" stroke="#111" stroke-width="2.9" stroke-linejoin="miter" />
<polygon points="546.2,1397.4 1104.3,1548.8 1104.3,1789.5 546.2,1638.1" fill="none" stroke="#111" stroke-width="2.9" stroke-linejoin="miter" />
<polygon points="554.8,1409.0 1095.2,1555.6 1095.2,1778.4 554.8,1631.8" fill="none" stroke="#111" stroke-width="2.9" stroke-linejoin="miter" />
<polygon points="562.6,1419.3 1086.9,1561.6 1086.9,1767.4 562.6,1625.1" fill="none" stroke="#111" stroke-width="2.9" stroke-linejoin="miter" />
<polygon points="571.7,1430.2 1078.6,1567.7 1078.6,1756.8 571.7,1619.3" fill="none" stroke="#111" stroke-width="2.9" stroke-linejoin="miter" />
<polygon points="590.1,1458.2 1061.7,1586.1 1061.7,1728.2 590.1,1600.3" fill="none" stroke="#111" stroke-width="2.9" stroke-linejoin="miter" />
<line x1="603.6" y1="1529.1" x2="603.6" y2="1587.9" stroke="#111" stroke-width="1.8" stroke-linecap="round" />
<line x1="615.7" y1="1552.3" x2="615.7" y2="1582.1" stroke="#111" stroke-width="1.8" stroke-linecap="round" />
<line x1="575.7" y1="339.2" x2="575.7" y2="941.2" stroke="#111" stroke-width="4.0" stroke-linecap="round" />
<line x1="575.7" y1="941.2" x2="704.0" y2="976.0" stroke="#111" stroke-width="4.0" stroke-linecap="round" />
<line x1="575.7" y1="339.2" x2="704.0" y2="374.0" stroke="#111" stroke-width="3.6" stroke-linecap="round" />
<line x1="575.7" y1="339.2" x2="584.8" y2="331.6" stroke="#111" stroke-width="3.4" stroke-linecap="round" />
<line x1="584.8" y1="331.6" x2="704.0" y2="363.9" stroke="#111" stroke-width="3.6" stroke-linecap="round" />
<line x1="600.3" y1="369.4" x2="682.6" y2="391.7" stroke="#111" stroke-width="3.6" stroke-linecap="square" />
<line x1="682.6" y1="391.7" x2="682.6" y2="946.7" stroke="#111" stroke-width="3.8" stroke-linecap="square" />
<line x1="682.6" y1="946.7" x2="600.3" y2="924.4" stroke="#111" stroke-width="4.6" stroke-linecap="square" />
<line x1="600.3" y1="924.4" x2="600.3" y2="369.4" stroke="#111" stroke-width="5.4" stroke-linecap="square" />
<line x1="608.6" y1="682.6" x2="640.2" y2="628.9" stroke="#111" stroke-width="1.6" stroke-linecap="round" />
<line x1="633.4" y1="678.0" x2="647.4" y2="654.7" stroke="#111" stroke-width="1.6" stroke-linecap="round" />
<line x1="644.0" y1="709.0" x2="676.0" y2="655.3" stroke="#111" stroke-width="1.6" stroke-linecap="round" />
<line x1="704.2" y1="311.1" x2="704.2" y2="979.6" stroke="#111" stroke-width="4.0" stroke-linecap="round" />
<line x1="704.2" y1="311.1" x2="1214.7" y2="449.6" stroke="#111" stroke-width="3.6" stroke-linecap="round" />
<line x1="1214.7" y1="449.6" x2="1214.7" y2="1118.1" stroke="#111" stroke-width="4.0" stroke-linecap="round" />
<line x1="704.2" y1="978.4" x2="1216.4" y2="1117.3" stroke="#111" stroke-width="6.6" stroke-linecap="round" />
<line x1="704.2" y1="311.1" x2="715.6" y2="299.4" stroke="#111" stroke-width="3.4" stroke-linecap="round" />
<line x1="715.6" y1="299.4" x2="1226.1" y2="437.9" stroke="#111" stroke-width="3.6" stroke-linecap="round" />
<line x1="1214.7" y1="449.6" x2="1226.1" y2="437.9" stroke="#111" stroke-width="3.4" stroke-linecap="round" />
<line x1="1226.1" y1="437.9" x2="1226.1" y2="504.5" stroke="#111" stroke-width="4.0" stroke-linecap="round" />
<line x1="716.4" y1="326.5" x2="1202.2" y2="458.3" stroke="#111" stroke-width="3.6" stroke-linecap="square" />
<line x1="1202.2" y1="458.3" x2="1202.2" y2="1103.3" stroke="#111" stroke-width="3.9" stroke-linecap="square" />
<line x1="1202.2" y1="1103.3" x2="716.4" y2="971.5" stroke="#111" stroke-width="3.9" stroke-linecap="square" />
<line x1="716.4" y1="971.5" x2="716.4" y2="326.5" stroke="#111" stroke-width="3.9" stroke-linecap="square" />
<polyline points="722.9,328.4 722.9,964.4 1202.2,1094.5" fill="none" stroke="#111" stroke-width="3.8" stroke-linejoin="miter" />
<line x1="722.9" y1="964.4" x2="716.4" y2="971.5" stroke="#111" stroke-width="3.4" stroke-linecap="round" />
<line x1="734.0" y1="370.0" x2="1165.1" y2="487.0" stroke="#111" stroke-width="3.6" stroke-linecap="square" />
<line x1="1165.1" y1="487.0" x2="1165.1" y2="1078.1" stroke="#111" stroke-width="3.9" stroke-linecap="square" />
<line x1="1165.1" y1="1078.1" x2="734.0" y2="961.1" stroke="#111" stroke-width="3.9" stroke-linecap="square" />
<line x1="734.0" y1="961.1" x2="734.0" y2="370.0" stroke="#111" stroke-width="3.9" stroke-linecap="square" />
<line x1="734.0" y1="370.0" x2="745.0" y2="359.5" stroke="#111" stroke-width="3.4" stroke-linecap="round" />
<line x1="745.0" y1="359.5" x2="1176.2" y2="476.5" stroke="#111" stroke-width="3.6" stroke-linecap="round" />
<line x1="1165.1" y1="487.0" x2="1176.2" y2="476.5" stroke="#111" stroke-width="3.4" stroke-linecap="round" />
<line x1="1176.2" y1="476.5" x2="1176.2" y2="1067.9" stroke="#111" stroke-width="3.9" stroke-linecap="round" />
<line x1="1165.1" y1="1078.1" x2="1176.2" y2="1067.9" stroke="#111" stroke-width="3.4" stroke-linecap="round" />
<line x1="755.7" y1="395.4" x2="1144.8" y2="501.0" stroke="#111" stroke-width="3.6" stroke-linecap="square" />
<line x1="1144.8" y1="501.0" x2="1144.8" y2="1052.9" stroke="#111" stroke-width="3.9" stroke-linecap="square" />
<line x1="1144.8" y1="1052.9" x2="755.7" y2="947.3" stroke="#111" stroke-width="4.6" stroke-linecap="square" />
<line x1="755.7" y1="947.3" x2="755.7" y2="395.4" stroke="#111" stroke-width="5.4" stroke-linecap="square" />
<line x1="767.9" y1="407.0" x2="1135.6" y2="506.8" stroke="#111" stroke-width="3.6" stroke-linecap="square" />
<line x1="1135.6" y1="506.8" x2="1135.6" y2="1035.3" stroke="#111" stroke-width="3.9" stroke-linecap="square" />
<line x1="1135.6" y1="1035.3" x2="767.9" y2="935.5" stroke="#111" stroke-width="4.6" stroke-linecap="square" />
<line x1="767.9" y1="935.5" x2="767.9" y2="407.0" stroke="#111" stroke-width="5.4" stroke-linecap="square" />
<ellipse cx="946.8" cy="1011.2" rx="5.0" ry="5.3" fill="#111"/>
<polyline points="804.0,323.8 810.6,315.8 843.0,324.6 843.0,333.2" fill="none" stroke="#111" stroke-width="2.8" stroke-linejoin="miter" />
<line x1="837.5" y1="331.5" x2="843.0" y2="324.6" stroke="#111" stroke-width="2.2" stroke-linecap="round" />
<polyline points="1104.7,405.2 1112.6,397.2 1144.4,406.5 1144.4,414.7" fill="none" stroke="#111" stroke-width="2.8" stroke-linejoin="miter" />
<line x1="1139.0" y1="413.0" x2="1144.4" y2="406.5" stroke="#111" stroke-width="2.2" stroke-linecap="round" />
<line x1="804.8" y1="632.6" x2="910.4" y2="504.7" stroke="#111" stroke-width="2.0" stroke-linecap="round" />
<line x1="869.4" y1="651.2" x2="914.2" y2="597.8" stroke="#111" stroke-width="2.0" stroke-linecap="round" />
<line x1="886.5" y1="715.2" x2="991.8" y2="587.9" stroke="#111" stroke-width="2.0" stroke-linecap="round" />
<line x1="995.5" y1="913.2" x2="1067.3" y2="826.6" stroke="#111" stroke-width="2.0" stroke-linecap="round" />
<line x1="1039.3" y1="927.2" x2="1070.0" y2="889.9" stroke="#111" stroke-width="2.0" stroke-linecap="round" />
<line x1="1050.5" y1="970.0" x2="1123.2" y2="883.4" stroke="#111" stroke-width="2.0" stroke-linecap="round" />
<line x1="1217.0" y1="513.4" x2="1217.0" y2="1115.4" stroke="#111" stroke-width="4.6" stroke-linecap="round" />
<line x1="1216.6" y1="513.3" x2="1349.7" y2="549.4" stroke="#111" stroke-width="3.6" stroke-linecap="round" />
<line x1="1216.6" y1="1115.3" x2="1349.7" y2="1151.4" stroke="#111" stroke-width="4.0" stroke-linecap="round" />
<line x1="1349.7" y1="549.4" x2="1349.7" y2="1151.4" stroke="#111" stroke-width="4.0" stroke-linecap="round" />
<line x1="1216.6" y1="513.3" x2="1226.1" y2="504.5" stroke="#111" stroke-width="3.4" stroke-linecap="round" />
<line x1="1226.1" y1="504.5" x2="1357.6" y2="540.2" stroke="#111" stroke-width="3.6" stroke-linecap="round" />
<line x1="1349.7" y1="549.4" x2="1357.6" y2="540.2" stroke="#111" stroke-width="3.4" stroke-linecap="round" />
<line x1="1357.6" y1="540.2" x2="1357.6" y2="1144.2" stroke="#111" stroke-width="4.0" stroke-linecap="round" />
<line x1="1349.7" y1="1151.4" x2="1357.6" y2="1144.2" stroke="#111" stroke-width="3.4" stroke-linecap="round" />
<line x1="1242.6" y1="543.2" x2="1324.6" y2="565.5" stroke="#111" stroke-width="3.6" stroke-linecap="square" />
<line x1="1324.6" y1="565.5" x2="1324.6" y2="1120.9" stroke="#111" stroke-width="3.8" stroke-linecap="square" />
<line x1="1324.6" y1="1120.9" x2="1242.6" y2="1098.6" stroke="#111" stroke-width="4.6" stroke-linecap="square" />
<line x1="1242.6" y1="1098.6" x2="1242.6" y2="543.2" stroke="#111" stroke-width="5.4" stroke-linecap="square" />
<line x1="1247.7" y1="815.7" x2="1279.3" y2="762.0" stroke="#111" stroke-width="1.6" stroke-linecap="round" />
<line x1="1272.5" y1="811.1" x2="1286.5" y2="787.8" stroke="#111" stroke-width="1.6" stroke-linecap="round" />
<line x1="1283.1" y1="842.1" x2="1315.1" y2="788.4" stroke="#111" stroke-width="1.6" stroke-linecap="round" />
<line x1="574.0" y1="54.0" x2="574.0" y2="338.0" stroke="#231f20" stroke-width="2.0" stroke-linecap="butt" stroke-dasharray="14 10"/>
<line x1="703.0" y1="197.5" x2="703.0" y2="309.0" stroke="#231f20" stroke-width="2.0" stroke-linecap="butt" stroke-dasharray="14 10"/>
<line x1="1226.2" y1="192.0" x2="1226.2" y2="437.0" stroke="#231f20" stroke-width="2.0" stroke-linecap="butt" stroke-dasharray="14 10"/>
<line x1="1356.6" y1="61.0" x2="1356.6" y2="538.0" stroke="#231f20" stroke-width="2.0" stroke-linecap="butt" stroke-dasharray="14 10"/>
<line x1="262.8" y1="1599.0" x2="262.8" y2="1998.0" stroke="#231f20" stroke-width="2.0" stroke-linecap="butt" stroke-dasharray="14 10"/>
<line x1="1381.5" y1="1939.0" x2="1381.5" y2="1998.0" stroke="#231f20" stroke-width="2.0" stroke-linecap="butt" stroke-dasharray="14 10"/>
<line x1="1522.6" y1="1764.0" x2="1522.6" y2="1998.0" stroke="#231f20" stroke-width="2.0" stroke-linecap="butt" stroke-dasharray="14 10"/>
<line x1="1229.0" y1="438.5" x2="1756.0" y2="438.5" stroke="#231f20" stroke-width="2.0" stroke-linecap="butt" stroke-dasharray="14 10"/>
<line x1="1362.0" y1="542.3" x2="1446.0" y2="542.3" stroke="#231f20" stroke-width="2.0" stroke-linecap="butt" stroke-dasharray="14 10"/>
<line x1="1349.0" y1="1151.1" x2="1439.0" y2="1151.1" stroke="#231f20" stroke-width="2.0" stroke-linecap="butt" stroke-dasharray="14 10"/>
<line x1="1530.0" y1="1185.0" x2="1614.0" y2="1185.0" stroke="#231f20" stroke-width="2.0" stroke-linecap="butt" stroke-dasharray="14 10"/>
<line x1="1487.0" y1="1837.9" x2="1768.0" y2="1837.9" stroke="#231f20" stroke-width="2.0" stroke-linecap="butt" stroke-dasharray="14 10"/>
<line x1="590.5" y1="90.0" x2="1339.5" y2="90.0" stroke="#231f20" stroke-width="2.1" stroke-linecap="butt" />
<polygon points="1349.5,90.0 1332.5,99.7 1332.5,80.3" fill="#231f20"/>
<polygon points="580.5,90.0 597.5,80.3 597.5,99.7" fill="#231f20"/>
<line x1="586.0" y1="224.5" x2="690.7" y2="224.5" stroke="#231f20" stroke-width="2.1" stroke-linecap="butt" />
<polygon points="700.7,224.5 683.7,234.2 683.7,214.8" fill="#231f20"/>
<polygon points="576.0,224.5 593.0,214.8 593.0,234.2" fill="#231f20"/>
<line x1="721.0" y1="224.5" x2="1210.7" y2="224.5" stroke="#231f20" stroke-width="2.1" stroke-linecap="butt" />
<polygon points="1220.7,224.5 1203.7,234.2 1203.7,214.8" fill="#231f20"/>
<polygon points="711.0,224.5 728.0,214.8 728.0,234.2" fill="#231f20"/>
<line x1="1239.7" y1="224.5" x2="1344.0" y2="224.5" stroke="#231f20" stroke-width="2.1" stroke-linecap="butt" />
<polygon points="1354.0,224.5 1337.0,234.2 1337.0,214.8" fill="#231f20"/>
<polygon points="1229.7,224.5 1246.7,214.8 1246.7,234.2" fill="#231f20"/>
<line x1="272.8" y1="1989.1" x2="1367.0" y2="1989.1" stroke="#231f20" stroke-width="2.1" stroke-linecap="butt" />
<polygon points="1377.0,1989.1 1360.0,1998.8 1360.0,1979.4" fill="#231f20"/>
<polygon points="262.8,1989.1 279.8,1979.4 279.8,1998.8" fill="#231f20"/>
<line x1="1396.3" y1="1989.9" x2="1509.5" y2="1989.9" stroke="#231f20" stroke-width="2.1" stroke-linecap="butt" />
<polygon points="1519.5,1989.9 1502.5,1999.6 1502.5,1980.2" fill="#231f20"/>
<polygon points="1386.3,1989.9 1403.3,1980.2 1403.3,1999.6" fill="#231f20"/>
<polygon points="1419.0,546.2 1428.7,563.2 1409.3,563.2" fill="#231f20"/>
<polygon points="1419.0,1146.3 1409.3,1129.3 1428.7,1129.3" fill="#231f20"/>
<line x1="1419.0" y1="556.2" x2="1419.0" y2="819.1" stroke="#231f20" stroke-width="2.1" stroke-linecap="butt" />
<line x1="1419.0" y1="899.9" x2="1419.0" y2="1136.3" stroke="#231f20" stroke-width="2.1" stroke-linecap="butt" />
<polygon points="1585.0,442.3 1594.7,459.3 1575.3,459.3" fill="#231f20"/>
<polygon points="1585.0,1181.7 1575.3,1164.7 1594.7,1164.7" fill="#231f20"/>
<line x1="1585.0" y1="452.3" x2="1585.0" y2="744.6" stroke="#231f20" stroke-width="2.1" stroke-linecap="butt" />
<line x1="1585.0" y1="812.2" x2="1585.0" y2="1171.7" stroke="#231f20" stroke-width="2.1" stroke-linecap="butt" />
<polygon points="1724.2,442.3 1733.9,459.3 1714.5,459.3" fill="#231f20"/>
<polygon points="1724.2,1833.0 1714.5,1816.0 1733.9,1816.0" fill="#231f20"/>
<line x1="1724.2" y1="452.3" x2="1724.2" y2="1084.8" stroke="#231f20" stroke-width="2.1" stroke-linecap="butt" />
<line x1="1724.2" y1="1155.2" x2="1724.2" y2="1823.0" stroke="#231f20" stroke-width="2.1" stroke-linecap="butt" />
<polygon points="1586.0,1190.0 1595.7,1207.0 1576.3,1207.0" fill="#231f20"/>
<polygon points="1586.0,1833.0 1576.3,1816.0 1595.7,1816.0" fill="#231f20"/>
<line x1="1586.0" y1="1200.0" x2="1586.0" y2="1488.0" stroke="#231f20" stroke-width="2.1" stroke-linecap="butt" />
<line x1="1586.0" y1="1568.7" x2="1586.0" y2="1823.0" stroke="#231f20" stroke-width="2.1" stroke-linecap="butt" />
<line x1="919.0" y1="463.6" x2="919.0" y2="962.8" stroke="#231f20" stroke-width="1.6" stroke-linecap="butt" />
<polygon points="919.0,972.8 909.3,955.8 928.7,955.8" fill="#231f20"/>
<polygon points="919.0,453.6 928.7,470.6 909.3,470.6" fill="#231f20"/>
<line x1="787.2" y1="771.2" x2="1118.1" y2="859.4" stroke="#231f20" stroke-width="1.6" stroke-linecap="butt" />
<polygon points="1127.8,862.0 1108.9,867.0 1113.9,848.2" fill="#231f20"/>
<polygon points="777.5,768.6 796.4,763.6 791.4,782.4" fill="#231f20"/>
<line x1="614.3" y1="387.5" x2="614.3" y2="897.2" stroke="#231f20" stroke-width="1.6" stroke-linecap="butt" />
<polygon points="614.3,907.2 604.6,890.2 624.0,890.2" fill="#231f20"/>
<polygon points="614.3,377.5 624.0,394.5 604.6,394.5" fill="#231f20"/>
<line x1="617.7" y1="914.6" x2="670.4" y2="928.0" stroke="#231f20" stroke-width="1.6" stroke-linecap="butt" />
<polygon points="680.1,930.4 661.2,935.6 666.0,916.8" fill="#231f20"/>
<polygon points="608.0,912.2 626.9,907.0 622.1,925.8" fill="#231f20"/>
<rect x="545.0" y="527.3" width="123.0" height="48.8" fill="#fff"/>
<rect x="626.0" y="867.5" width="101.0" height="37.5" fill="#fff"/>
<text transform="translate(908.0,72.0) scale(1.005,1.045)" font-family="Liberation Sans" font-weight="bold" font-size="40" fill="#231f20" stroke="#231f20" stroke-width="0.45">44.50”</text>
<text transform="translate(594.0,209.0) scale(1.005,1.045)" font-family="Liberation Sans" font-weight="bold" font-size="40" fill="#231f20" stroke="#231f20" stroke-width="0.45">7.50”</text>
<text transform="translate(907.6,206.4) scale(1.005,1.045)" font-family="Liberation Sans" font-weight="bold" font-size="40" fill="#231f20" stroke="#231f20" stroke-width="0.45">29.25”</text>
<text transform="translate(1248.0,206.0) scale(1.005,1.045)" font-family="Liberation Sans" font-weight="bold" font-size="40" fill="#231f20" stroke="#231f20" stroke-width="0.45">7.50”</text>
<text transform="translate(548.0,565.8) scale(1.005,1.045)" font-family="Liberation Sans" font-weight="bold" font-size="40" fill="#231f20" stroke="#231f20" stroke-width="0.45">31.75”</text>
<text transform="translate(928.4,576.1) scale(1.005,1.045)" font-family="Liberation Sans" font-weight="bold" font-size="40" fill="#231f20" stroke="#231f20" stroke-width="0.45">30.50”</text>
<text transform="translate(996.8,814.3) scale(1.005,1.045)" font-family="Liberation Sans" font-weight="bold" font-size="40" fill="#231f20" stroke="#231f20" stroke-width="0.45">20.25”</text>
<text transform="translate(628.7,903.9) scale(1.005,1.045)" font-family="Liberation Sans" font-weight="bold" font-size="40" fill="#231f20" stroke="#231f20" stroke-width="0.45">4.00”</text>
<text transform="translate(1373.2,879.4) scale(1.005,1.045)" font-family="Liberation Sans" font-weight="bold" font-size="40" fill="#231f20" stroke="#231f20" stroke-width="0.45">35.50”</text>
<text transform="translate(1529.7,788.8) scale(1.005,1.045)" font-family="Liberation Sans" font-weight="bold" font-size="40" fill="#231f20" stroke="#231f20" stroke-width="0.45">39.50”</text>
<text transform="translate(1672.3,1136.2) scale(1.005,1.045)" font-family="Liberation Sans" font-weight="bold" font-size="40" fill="#231f20" stroke="#231f20" stroke-width="0.45">78.75”</text>
<text transform="translate(1545.0,1548.4) scale(1.005,1.045)" font-family="Liberation Sans" font-weight="bold" font-size="40" fill="#231f20" stroke="#231f20" stroke-width="0.45">39.25”</text>
<text transform="translate(730.8,1971.1) scale(1.005,1.045)" font-family="Liberation Sans" font-weight="bold" font-size="40" fill="#231f20" stroke="#231f20" stroke-width="0.45">66.25”</text>
<text transform="translate(1393.8,1976.0) scale(1.005,1.045)" font-family="Liberation Sans" font-weight="bold" font-size="40" fill="#231f20" stroke="#231f20" stroke-width="0.45">16.00”</text>
</svg>
</body></html>
